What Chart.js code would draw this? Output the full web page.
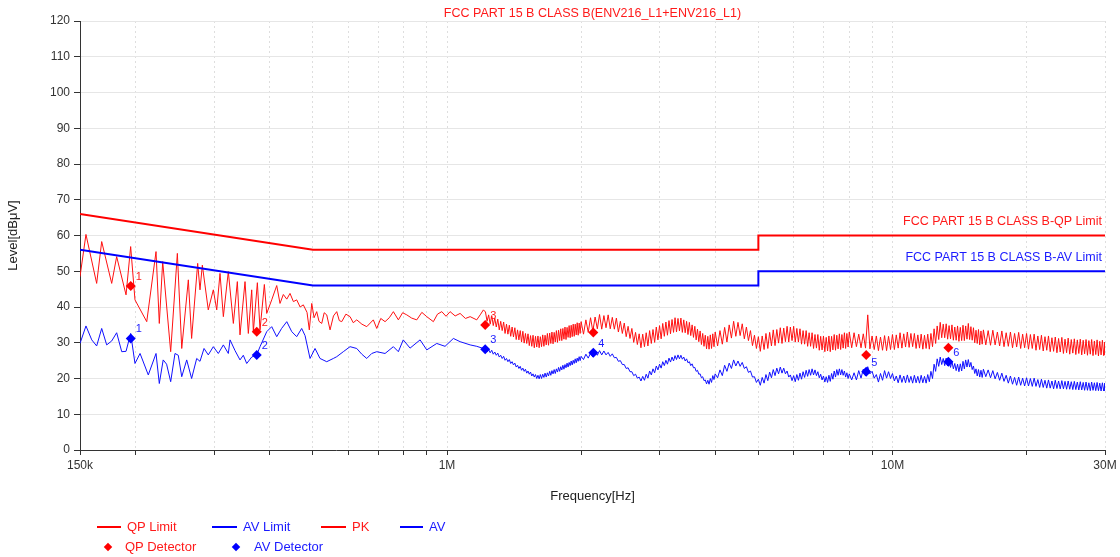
<!DOCTYPE html>
<html><head><meta charset="utf-8">
<script src="https://cdn.jsdelivr.net/npm/chart.js@4.4.1/dist/chart.umd.min.js"></script>
<style>
body{margin:0;background:#fff;font-family:"Liberation Sans",Arial,sans-serif;}
#wrap{position:relative;width:1120px;height:557px;overflow:hidden;}
canvas{position:absolute;left:0;top:0;}
.lg{position:absolute;font-size:13px;line-height:15px;white-space:nowrap;}
.ln{position:absolute;height:2px;}
.dm{position:absolute;width:6px;height:6px;transform:rotate(45deg);}
</style></head><body>
<div id="wrap">
<canvas id="c" width="1120" height="557"></canvas>
<div class="ln" style="left:97px;top:526px;width:24px;background:#ff0000"></div><div class="lg" style="left:127px;top:519px;color:#ff1a1a">QP Limit</div>
<div class="ln" style="left:212px;top:526px;width:25px;background:#0000ff"></div><div class="lg" style="left:243px;top:519px;color:#1a1aff">AV Limit</div>
<div class="ln" style="left:321px;top:526px;width:25px;background:#ff0000"></div><div class="lg" style="left:352px;top:519px;color:#ff1a1a">PK</div>
<div class="ln" style="left:400px;top:526px;width:23px;background:#0000ff"></div><div class="lg" style="left:429px;top:519px;color:#1a1aff">AV</div>
<div class="dm" style="left:105px;top:544px;background:#ff0000"></div><div class="lg" style="left:125px;top:539px;color:#ff1a1a">QP Detector</div>
<div class="dm" style="left:233px;top:544px;background:#0000ff"></div><div class="lg" style="left:254px;top:539px;color:#1a1aff">AV Detector</div>
</div>
<script>
// ---- data (frequency in MHz, level in dBµV) ----
const xTickValues = [0.15,0.2,0.3,0.4,0.5,0.6,0.7,0.8,0.9,1,2,3,4,5,6,7,8,9,10,20,30];
const xTickLabels = {0.15:'150k', 1:'1M', 10:'10M', 30:'30M'};

const limitFreq = [0.15, 0.5, 5, 5, 30];
const qpLimitLevel = [66, 56, 56, 60, 60];
const avLimitLevel = [56, 46, 46, 50, 50];

const detFreq = [0.195, 0.374, 1.218, 2.13, 8.73, 13.35];
const qpDetLevel = [45.9, 33.1, 35.0, 32.9, 26.6, 28.6];
const avDetLevel = [31.2, 26.6, 28.2, 27.2, 21.9, 24.7];

const pkLowFreq = [0.150,0.1547,0.1635,0.1678,0.1767,0.1813,0.1903,0.1949,0.1993,0.2118,0.2222,0.2260,0.2300,0.2397,0.2481,0.2538,0.2626,0.2671,0.2756,0.2789,0.2823,0.2911,0.2988,0.3041,0.3093,0.3147,0.3229,0.3314,0.3383,0.3430,0.3520,0.3581,0.3644,0.3675,0.3752,0.3804,0.3890,0.3938,0.4041,0.4147,0.4218,0.4291,0.4368,0.4442,0.4520,0.4598,0.4680,0.4758,0.4850,0.4908,0.4970,0.5030,0.5099,0.5160,0.5233,0.5300,0.5370,0.5463,0.5560,0.5655,0.5730,0.5803,0.5930,0.6058,0.6160,0.6271,0.6440,0.6604,0.6833,0.6954,0.7100,0.7260,0.7420,0.7578,0.7776,0.7950,0.8122,0.8330,0.8552,0.8780,0.9006,0.9319,0.9520,0.9734,0.9950,1.016,1.043,1.070,1.100,1.127,1.166,1.190,1.207];
const pkLowLevel = [48.5,60.3,46.6,58.3,46.6,54.1,43.4,56.9,42.0,35.9,55.5,35.4,52.7,27.5,55.0,28.4,47.6,31.2,52.2,44.8,51.7,39.2,44.8,39.2,49.4,37.3,49.9,35.4,47.1,32.2,47.1,32.6,44.8,33.1,46.8,33.6,46.3,38.2,42.0,46.0,41.0,43.5,42.2,43.8,41.5,42.0,40.0,40.6,38.5,33.6,41.0,37.0,38.7,36.0,35.4,38.4,37.8,33.6,37.5,38.7,36.2,35.9,38.0,37.3,35.6,36.4,35.2,34.5,36.4,34.0,36.8,35.9,37.0,38.7,36.4,38.4,37.8,36.9,36.4,38.5,37.3,35.9,38.0,38.7,37.4,38.7,37.5,38.2,36.8,37.3,36.4,38.0,39.2];

const avLowFreq = [0.150,0.1547,0.1594,0.1635,0.1678,0.1722,0.1767,0.1813,0.1861,0.1903,0.1949,0.1993,0.2046,0.2135,0.2222,0.2260,0.2306,0.2347,0.2397,0.2451,0.2493,0.2538,0.2604,0.2671,0.2742,0.2789,0.2848,0.2911,0.2988,0.3066,0.3147,0.3229,0.3258,0.3343,0.3430,0.3489,0.3551,0.3644,0.3740,0.3804,0.3938,0.4041,0.4147,0.4253,0.4368,0.4482,0.4598,0.4718,0.4801,0.4926,0.5055,0.5187,0.5370,0.5556,0.5655,0.5851,0.6058,0.6271,0.6437,0.6604,0.6777,0.6954,0.7260,0.7578,0.7776,0.7976,0.8262,0.8701,0.9006,0.9484,0.9899,1.0335,1.070,1.127,1.166,1.207];
const avLowLevel = [29.8,34.7,30.8,29.1,34.0,29.4,30.5,32.8,27.5,27.6,32.6,24.2,27.0,21.0,27.0,18.6,25.2,24.0,19.1,27.0,26.5,20.5,25.2,20.0,25.6,24.8,28.4,26.6,28.9,27.0,29.4,27.0,30.8,27.8,25.2,26.5,24.2,26.0,26.6,28.9,33.1,34.5,31.7,34.0,35.9,33.1,31.7,34.0,32.0,25.6,28.4,25.6,24.7,25.6,26.1,27.5,28.9,28.4,26.8,25.6,27.0,27.5,27.0,28.9,27.5,30.8,28.5,30.8,28.0,29.8,29.0,31.2,30.3,29.4,29.0,28.4];

// dense region above 1.2 MHz: trace peaks at denseFreq, troughs at denseMidFreq
const denseFreq = [
 1.22,1.24,1.26,1.28,1.30,1.32,1.34,1.36,1.38,1.40,1.42,1.44,1.46,1.48,1.50,1.52,1.54,1.56,1.58,1.60,1.62,1.64,1.66,1.68,1.70,1.72,1.74,1.76,1.78,1.80,1.82,1.84,1.86,1.88,1.90,1.92,1.94,1.96,1.98,2.00,
 2.05,2.10,2.15,2.20,2.25,2.30,2.35,2.40,2.45,2.50,2.55,2.60,2.65,2.70,2.75,2.80,2.85,2.90,2.95,3.00,3.05,3.10,3.15,3.20,3.25,3.30,3.35,3.40,3.45,3.50,3.55,3.60,3.65,3.70,3.75,3.80,3.85,3.90,3.95,4.00,
 4.1,4.2,4.3,4.4,4.5,4.6,4.7,4.8,4.9,5.0,5.1,5.2,5.3,5.4,5.5,5.6,5.7,5.8,5.9,6.0,6.1,6.2,6.3,6.4,6.5,6.6,6.7,6.8,6.9,7.0,7.1,7.2,7.3,7.4,7.5,7.6,7.7,7.8,7.9,8.0,
 8.2,8.4,8.6,8.8,9.0,9.2,9.4,9.6,9.8,10.0,10.2,10.4,10.6,10.8,11.0,11.2,11.4,11.6,11.8,12.0,12.2,12.4,12.6,12.8,13.0,13.2,13.4,13.6,13.8,14.0,14.2,14.4,14.6,14.8,15.0,15.2,15.4,15.6,15.8,16.0,
 16.4,16.8,17.2,17.6,18.0,18.4,18.8,19.2,19.6,20.0,20.4,20.8,21.2,21.6,22.0,22.4,22.8,23.2,23.6,24.0,24.4,24.8,25.2,25.6,26.0,26.4,26.8,27.2,27.6,28.0,28.4,28.8,29.2,29.6,30.0];
const denseMidFreq = [
 1.23,1.25,1.27,1.29,1.31,1.33,1.35,1.37,1.39,1.41,1.43,1.45,1.47,1.49,1.51,1.53,1.55,1.57,1.59,1.61,1.63,1.65,1.67,1.69,1.71,1.73,1.75,1.77,1.79,1.81,1.83,1.85,1.87,1.89,1.91,1.93,1.95,1.97,1.99,2.025,
 2.075,2.125,2.175,2.225,2.275,2.325,2.375,2.425,2.475,2.525,2.575,2.625,2.675,2.725,2.775,2.825,2.875,2.925,2.975,3.025,3.075,3.125,3.175,3.225,3.275,3.325,3.375,3.425,3.475,3.525,3.575,3.625,3.675,3.725,3.775,3.825,3.875,3.925,3.975,4.05,
 4.15,4.25,4.35,4.45,4.55,4.65,4.75,4.85,4.95,5.05,5.15,5.25,5.35,5.45,5.55,5.65,5.75,5.85,5.95,6.05,6.15,6.25,6.35,6.45,6.55,6.65,6.75,6.85,6.95,7.05,7.15,7.25,7.35,7.45,7.55,7.65,7.75,7.85,7.95,8.1,
 8.3,8.5,8.7,8.9,9.1,9.3,9.5,9.7,9.9,10.1,10.3,10.5,10.7,10.9,11.1,11.3,11.5,11.7,11.9,12.1,12.3,12.5,12.7,12.9,13.1,13.3,13.5,13.7,13.9,14.1,14.3,14.5,14.7,14.9,15.1,15.3,15.5,15.7,15.9,16.2,
 16.6,17.0,17.4,17.8,18.2,18.6,19.0,19.4,19.8,20.2,20.6,21.0,21.4,21.8,22.2,22.6,23.0,23.4,23.8,24.2,24.6,25.0,25.4,25.8,26.2,26.6,27.0,27.4,27.8,28.2,28.6,29.0,29.4,29.8,30.0];
const pkDenseHigh = [
 38.6,37.8,37.6,36.9,36.6,36.0,35.8,35.2,34.9,34.4,34.2,33.6,33.4,33.2,32.6,32.5,32.0,32.1,31.8,31.9,31.7,32.2,32.1,32.6,32.7,33.0,32.9,33.4,33.5,33.9,34.0,34.4,34.3,34.8,34.9,35.2,35.2,35.6,35.5,35.9,
 36.4,37.0,37.2,37.9,37.6,37.8,37.1,36.9,36.0,35.5,34.6,34.0,32.9,32.5,32.4,32.8,33.4,33.7,34.4,34.8,35.4,35.8,36.2,36.5,37.0,36.8,36.9,36.4,36.0,35.7,35.0,34.6,33.8,33.3,32.6,32.1,31.8,32.2,32.5,33.0,
 33.4,34.3,35.0,36.0,35.7,35.3,34.4,33.4,32.1,31.7,31.9,32.6,32.9,33.6,33.7,34.2,34.1,34.6,34.4,34.6,34.0,33.9,33.4,33.4,32.8,32.8,32.3,32.3,31.8,31.9,31.5,31.9,31.8,32.3,32.1,32.5,32.3,32.8,32.6,33.0,
 32.8,32.4,32.5,37.8,31.9,31.9,31.6,32.0,31.8,32.3,32.2,32.8,32.5,33.0,32.6,32.6,32.2,32.4,32.1,32.4,32.6,33.9,34.7,35.7,35.2,35.3,34.8,35.0,34.4,34.7,34.3,34.9,34.7,35.4,34.5,34.2,33.5,33.7,33.3,33.6,
 33.4,33.5,33.0,33.3,32.8,33.0,32.6,32.9,32.4,32.6,32.3,32.4,31.9,32.1,31.7,31.9,31.4,31.6,31.2,31.5,31.0,31.3,30.9,31.1,30.8,31.0,30.7,30.9,30.6,30.9,30.5,30.8,30.4,30.7,30.2];
const pkDenseLow = [
 36.0,35.2,34.8,34.4,33.6,33.4,32.6,32.4,31.8,31.6,30.9,30.8,30.2,29.9,29.8,29.2,29.0,28.6,28.8,28.6,28.9,29.0,29.4,29.3,29.8,29.7,30.2,30.1,30.6,30.6,31.0,30.9,31.5,31.4,31.7,31.8,32.2,32.1,32.6,32.4,
 32.9,33.2,33.9,33.8,34.2,33.9,33.8,33.0,32.6,31.7,31.2,30.1,29.5,28.6,28.9,29.1,29.8,30.1,30.8,31.1,31.8,32.1,32.5,32.9,33.0,33.3,32.9,32.8,32.3,32.0,31.5,30.8,30.3,29.5,29.0,28.3,28.2,28.4,28.9,29.1,
 29.6,30.2,31.3,31.8,32.0,31.1,30.6,29.2,28.4,27.6,28.1,28.4,29.1,29.2,29.9,29.8,30.3,30.2,30.6,30.2,30.2,29.6,29.6,29.0,29.0,28.4,28.5,27.9,28.0,27.5,27.7,27.5,28.0,27.9,28.3,28.1,28.5,28.4,28.8,28.6,
 28.9,28.6,28.5,28.3,28.1,27.8,27.9,27.8,28.1,28.1,28.5,28.5,28.8,28.7,28.9,28.4,28.5,28.2,28.4,28.2,28.9,29.8,30.9,31.4,31.4,31.0,31.1,30.7,30.7,30.4,30.6,30.6,31.0,30.9,30.7,30.0,29.8,29.4,29.6,29.4,
 29.3,29.4,29.1,28.9,29.0,28.6,28.8,28.4,28.6,28.2,28.4,27.9,28.1,27.7,27.9,27.5,27.6,27.2,27.4,27.0,27.2,26.8,27.1,26.7,27.0,26.6,26.9,26.5,26.8,26.4,26.7,26.3,26.6,26.4,26.6];
const avDenseHigh = [
 28.6,28.1,27.9,27.4,27.1,26.5,26.2,25.6,25.3,24.7,24.3,23.7,23.4,22.9,22.6,22.1,21.8,21.3,21.1,20.9,21.1,21.2,21.5,21.6,22.0,22.2,22.5,22.7,23.1,23.3,23.7,23.9,24.3,24.5,24.9,25.1,25.5,25.7,26.1,26.2,
 26.8,27.1,27.7,27.8,27.7,27.3,26.9,25.9,25.0,23.9,23.0,21.9,21.2,20.4,20.6,21.2,22.1,22.7,23.5,24.0,24.7,25.1,25.7,26.0,26.4,26.6,26.5,26.0,25.5,24.7,24.1,23.1,22.3,21.3,20.5,19.6,19.5,20.0,20.8,21.3,
 22.4,23.7,24.3,25.2,24.9,24.5,23.3,22.1,20.5,19.8,20.3,21.1,21.8,22.5,22.9,23.2,22.9,22.1,21.0,20.8,21.1,21.5,21.9,22.3,22.5,22.7,22.4,21.9,21.2,20.7,20.5,20.9,21.4,22.1,22.5,22.7,22.5,22.1,21.6,21.3,
 21.6,22.2,22.6,23.3,22.0,21.1,21.4,22.2,21.9,21.4,20.7,21.0,20.7,21.0,20.6,20.9,20.6,20.9,20.6,21.1,22.0,24.0,25.5,26.0,25.6,25.7,25.1,24.8,24.2,24.0,24.1,24.8,25.2,25.3,24.5,23.5,22.7,22.5,22.3,22.6,
 22.4,22.2,21.7,21.5,20.9,20.7,20.3,20.4,20.1,20.2,20.0,20.1,19.7,19.8,19.5,19.6,19.3,19.5,19.3,19.4,19.2,19.3,19.1,19.2,19.0,19.1,18.9,19.0,18.8,19.0,18.8,18.9,18.7,18.8,18.7];
const avDenseLow = [
 27.5,27.2,26.8,26.5,26.0,25.6,25.1,24.7,24.2,23.8,23.2,22.8,22.3,22.0,21.5,21.2,20.7,20.4,20.0,19.9,20.0,20.3,20.4,20.7,20.9,21.3,21.4,21.8,22.0,22.4,22.6,23.0,23.2,23.6,23.8,24.2,24.4,24.8,25.0,25.3,
 25.7,26.0,26.5,26.6,26.6,26.2,25.8,24.8,23.9,22.8,21.9,20.8,20.1,19.3,19.5,20.1,21.0,21.6,22.4,22.9,23.6,24.0,24.6,24.9,25.3,25.5,25.4,24.9,24.4,23.6,23.0,22.0,21.2,20.2,19.4,18.5,18.4,18.9,19.7,20.2,
 20.8,22.0,22.8,23.5,23.4,22.8,21.7,20.4,18.9,18.1,18.7,19.4,20.2,20.8,21.3,21.5,21.3,20.4,19.4,19.1,19.5,19.8,20.3,20.6,20.9,21.0,20.8,20.2,19.6,19.0,18.9,19.2,19.8,20.4,20.9,21.0,20.9,20.4,20.0,19.6,
 19.6,20.1,20.7,21.3,20.1,19.0,19.5,20.1,20.0,19.3,18.8,18.9,18.8,18.9,18.7,18.8,18.7,18.8,18.7,19.1,20.0,22.0,23.4,23.9,23.6,23.5,23.1,22.7,22.2,21.9,22.1,22.7,23.2,23.2,22.5,21.4,20.7,20.4,20.3,20.5,
 20.2,19.9,19.5,19.2,18.7,18.4,18.1,18.1,17.9,17.9,17.8,17.8,17.5,17.5,17.3,17.3,17.1,17.2,17.1,17.1,17.0,17.0,16.9,16.9,16.8,16.8,16.7,16.7,16.6,16.7,16.6,16.6,16.5,16.5,16.5];

// ---- build ----
const RED = '#ff0000', BLUE = '#0000ff';
const FONT = '"Liberation Sans", Arial, sans-serif';
const pts = (fs, ls) => fs.map((f, i) => ({x: f, y: ls[i]}));
const band = (fs, ms, hi, lo) => {
  const out = [];
  fs.forEach((f, i) => { out.push({x: f, y: hi[i]}, {x: ms[i], y: lo[i]}); });
  return out;
};

const annotate = {
  id: 'annotate',
  afterDatasetsDraw(chart) {
    const {ctx, chartArea, scales: {x, y}} = chart;
    ctx.save();
    ctx.font = '12.5px ' + FONT;
    ctx.textAlign = 'right';
    ctx.textBaseline = 'middle';
    ctx.fillStyle = '#ff1a1a';
    ctx.fillText('FCC PART 15 B CLASS B-QP Limit', chartArea.right - 3, y.getPixelForValue(qpLimitLevel[4]) - 14);
    ctx.fillStyle = '#1a1aff';
    ctx.fillText('FCC PART 15 B CLASS B-AV Limit', chartArea.right - 3, y.getPixelForValue(avLimitLevel[4]) - 14);
    ctx.font = '11px ' + FONT;
    ctx.textAlign = 'left';
    detFreq.forEach((f, i) => {
      const px = x.getPixelForValue(f);
      if (i < 3) {
        ctx.fillStyle = '#ff1a1a';
        ctx.fillText(String(i + 1), px + 5, y.getPixelForValue(qpDetLevel[i]) - 9);
      }
      ctx.fillStyle = '#1a1aff';
      ctx.fillText(String(i + 1), px + 5, y.getPixelForValue(avDetLevel[i]) - 9);
    });
    ctx.restore();
  }
};

new Chart(document.getElementById('c'), {
  type: 'line',
  data: {
    datasets: [
      {label: 'QP Detector', data: pts(detFreq, qpDetLevel), showLine: false, pointStyle: 'rectRot', pointRadius: 5, pointBackgroundColor: RED, pointBorderColor: RED, pointBorderWidth: 0},
      {label: 'AV Detector', data: pts(detFreq, avDetLevel), showLine: false, pointStyle: 'rectRot', pointRadius: 5, pointBackgroundColor: BLUE, pointBorderColor: BLUE, pointBorderWidth: 0},
      {label: 'QP Limit', data: pts(limitFreq, qpLimitLevel), borderColor: RED, borderWidth: 2, pointRadius: 0},
      {label: 'AV Limit', data: pts(limitFreq, avLimitLevel), borderColor: BLUE, borderWidth: 2, pointRadius: 0},
      {label: 'PK', data: pts(pkLowFreq, pkLowLevel).concat(band(denseFreq, denseMidFreq, pkDenseHigh, pkDenseLow)), borderColor: '#ff1010', borderWidth: 1, pointRadius: 0},
      {label: 'AV', data: pts(avLowFreq, avLowLevel).concat(band(denseFreq, denseMidFreq, avDenseHigh, avDenseLow)), borderColor: '#1010ff', borderWidth: 1, pointRadius: 0}
    ]
  },
  options: {
    responsive: false,
    animation: false,
    events: [],
    layout: {padding: {top: 1, right: 15, left: 0, bottom: 0}},
    elements: {line: {tension: 0}},
    plugins: {
      legend: {display: false},
      tooltip: {enabled: false},
      title: {
        display: true, fullSize: false,
        text: 'FCC PART 15 B CLASS B(ENV216_L1+ENV216_L1)',
        color: '#ff1a1a', font: {family: FONT, size: 12.5, weight: 'normal'},
        padding: {top: 5, bottom: 0}
      }
    },
    scales: {
      x: {
        type: 'logarithmic', min: 0.15, max: 30,
        afterBuildTicks: s => { s.ticks = xTickValues.map(v => ({value: v})); },
        afterFit: s => { s.height = 107; },
        ticks: {
          autoSkip: false, maxRotation: 0, minRotation: 0, padding: 3,
          color: '#333', font: {family: FONT, size: 12},
          callback: v => xTickLabels[v] || ''
        },
        grid: {color: '#dedede', lineWidth: 1, tickColor: '#333', tickLength: 5},
        border: {color: '#333', width: 1, dash: [2, 3]},
        title: {display: true, text: 'Frequency[Hz]', color: '#222', font: {family: FONT, size: 13}, padding: {top: 0, bottom: 53}}
      },
      y: {
        min: 0, max: 120,
        afterFit: s => { s.width = 80; },
        ticks: {stepSize: 10, padding: 4, color: '#333', font: {family: FONT, size: 12}},
        grid: {color: '#e6e6e6', lineWidth: 1, tickColor: '#333', tickLength: 6},
        border: {color: '#333', width: 1},
        title: {display: true, text: 'Level[dBμV]', color: '#222', font: {family: FONT, size: 13}, padding: {top: 6, bottom: 0}}
      }
    }
  },
  plugins: [annotate]
});
</script>
</body></html>
